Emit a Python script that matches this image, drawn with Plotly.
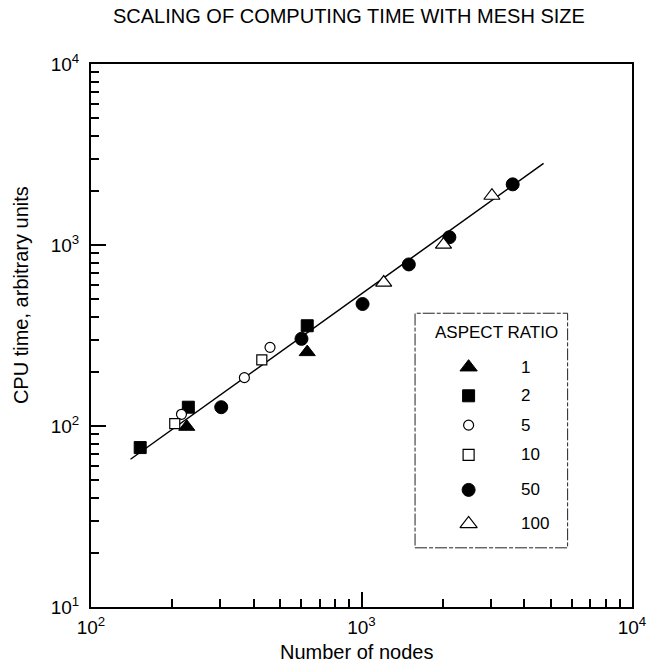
import plotly.graph_objects as go

# ---- data ----
ar1_x = [226, 630]
ar1_y = [99, 256]
ar2_x = [152, 229, 630]
ar2_y = [76, 127, 358]
ar5_x = [216, 369, 459]
ar5_y = [116, 185, 272]
ar10_x = [204, 428]
ar10_y = [103, 232]
ar50_x = [303, 600, 1009, 1496, 2113, 3622]
ar50_y = [127, 303, 472, 781, 1104, 2163]
ar100_x = [1208, 2010, 3035]
ar100_y = [620, 1004, 1871]
fit_x = [140, 4710]
fit_y = [65.5, 2825]

legend_labels = ["1", "2", "5", "10", "50", "100"]
x_tickvals = [100, 1000, 10000]
x_ticktext = ["10<sup>2</sup>", "10<sup>3</sup>", "10<sup>4</sup>"]
y_tickvals = [10, 100, 1000, 10000]
y_ticktext = ["10<sup>1</sup>", "10<sup>2</sup>", "10<sup>3</sup>", "10<sup>4</sup>"]

FONT = "Liberation Sans, Arial, Helvetica, sans-serif"

styles = {
    "1": dict(symbol="triangle-up", size=14, color="black", line=dict(color="black", width=1)),
    "2": dict(symbol="square", size=12, color="black", line=dict(color="black", width=1)),
    "5": dict(symbol="circle", size=10, color="white", line=dict(color="black", width=1.2)),
    "10": dict(symbol="square", size=10, color="white", line=dict(color="black", width=1.2)),
    "50": dict(symbol="circle", size=13, color="black", line=dict(color="black", width=1)),
    "100": dict(symbol="triangle-up", size=14, color="white", line=dict(color="black", width=1.2)),
}
series = [("1", ar1_x, ar1_y), ("2", ar2_x, ar2_y), ("5", ar5_x, ar5_y),
          ("10", ar10_x, ar10_y), ("50", ar50_x, ar50_y), ("100", ar100_x, ar100_y)]

fig = go.Figure()
fig.add_trace(go.Scatter(x=fit_x, y=fit_y, mode="lines",
                         line=dict(color="black", width=1.5), showlegend=False,
                         hoverinfo="skip"))
for name, xs, ys in series:
    fig.add_trace(go.Scatter(x=xs, y=ys, mode="markers", name=name,
                             marker=styles[name], showlegend=False))

# ---- hand-built legend on an auxiliary axis pair ----
leg_y = [0.770, 0.648, 0.523, 0.396, 0.247, 0.102]
leg_sizes = {"1": 15, "2": 12, "5": 10, "10": 11, "50": 13, "100": 15}
for name, yy in zip(legend_labels, leg_y):
    st = dict(styles[name])
    st["size"] = leg_sizes[name]
    fig.add_trace(go.Scatter(x=[0.351], y=[yy], mode="markers", marker=st,
                             xaxis="x2", yaxis="y2", showlegend=False,
                             hoverinfo="skip"))
    fig.add_annotation(x=0.68, y=yy, xref="x2", yref="y2", text=name,
                       showarrow=False, xanchor="left", yanchor="middle",
                       font=dict(family=FONT, size=17, color="black"))
fig.add_annotation(x=0.532, y=0.919, xref="x2", yref="y2", text="ASPECT RATIO",
                   showarrow=False, xanchor="center", yanchor="middle",
                   font=dict(family=FONT, size=17, color="black"))
fig.add_shape(type="rect", xref="paper", yref="paper",
              x0=0.599, x1=0.881, y0=0.109, y1=0.541,
              line=dict(color="#222", width=1, dash="12px,2px,4px,2px"))

# titles
fig.add_annotation(x=0.476, y=1.088, xref="paper", yref="paper",
                   text="SCALING OF COMPUTING TIME WITH MESH SIZE", showarrow=False,
                   xanchor="center", yanchor="middle",
                   font=dict(family=FONT, size=20, color="black"))
fig.add_annotation(x=0.491, y=-0.083, xref="paper", yref="paper",
                   text="Number of nodes", showarrow=False,
                   xanchor="center", yanchor="middle",
                   font=dict(family=FONT, size=20, color="black"))
fig.add_annotation(x=-0.128, y=0.574, xref="paper", yref="paper",
                   text="CPU time, arbitrary units", showarrow=False, textangle=-90,
                   xanchor="center", yanchor="middle",
                   font=dict(family=FONT, size=20, color="black"))

minor_x = [k * 10 ** d for d in (2, 3) for k in range(2, 10)]
minor_y = [k * 10 ** d for d in (1, 2, 3) for k in range(2, 10)]

axis_common = dict(type="log", showgrid=False, zeroline=False,
                   showline=True, linecolor="black", linewidth=2, mirror=True,
                   ticks="inside", ticklen=15, tickwidth=1.5, tickcolor="black",
                   tickfont=dict(family=FONT, size=19, color="black"))

fig.update_layout(
    width=658, height=664,
    margin=dict(l=91, r=21, t=64, b=57),
    paper_bgcolor="white", plot_bgcolor="white",
    showlegend=False,
    xaxis=dict(range=[2, 4], tickvals=x_tickvals, ticktext=x_ticktext,
               minor=dict(tickvals=minor_x, ticks="inside", ticklen=8,
                          tickwidth=1.5, tickcolor="black", showgrid=False),
               ticklabelstandoff=2, **axis_common),
    yaxis=dict(range=[1, 4], tickvals=y_tickvals, ticktext=y_ticktext,
               minor=dict(tickvals=minor_y, ticks="inside", ticklen=8,
                          tickwidth=1.5, tickcolor="black", showgrid=False),
               ticklabelstandoff=6, **axis_common),
    xaxis2=dict(domain=[0.599, 0.881], range=[0, 1], anchor="y2", visible=False,
                fixedrange=True),
    yaxis2=dict(domain=[0.109, 0.541], range=[0, 1], anchor="x2", visible=False,
                fixedrange=True),
)

fig.write_html("out.html")
